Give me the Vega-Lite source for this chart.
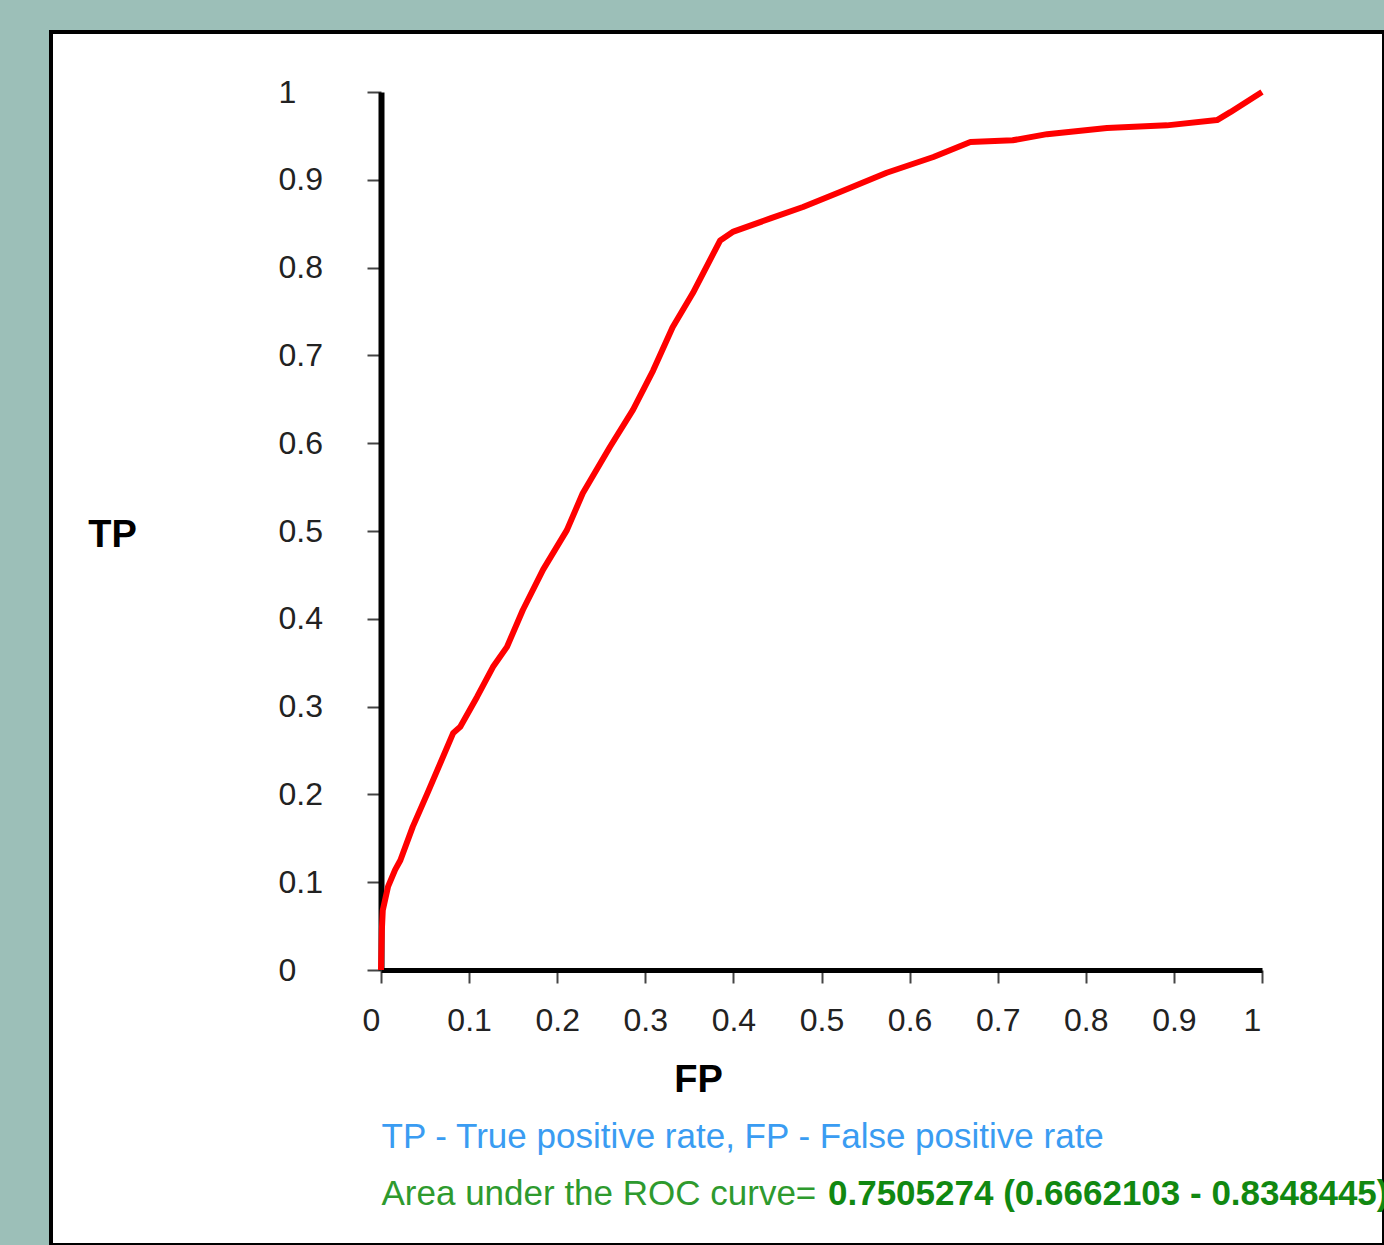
{
  "$schema": "https://vega.github.io/schema/vega-lite/v6.json",
  "width": 1333,
  "height": 1213,
  "autosize": {"type": "none"},
  "padding": {"left": 51, "top": 32, "right": 0, "bottom": 0},
  "background": "#9cbfb8",
  "config": {
    "font": "Liberation Sans",
    "view": {"fill": "white", "stroke": "black", "strokeWidth": 4}
  },
  "title": {
    "text": "0.7505274 (0.6662103 - 0.8348445)",
    "orient": "bottom",
    "anchor": "start",
    "frame": "group",
    "dx": 777,
    "dy": -51,
    "offset": 0,
    "fontSize": 35,
    "fontWeight": "bold",
    "font": "Liberation Sans",
    "color": "#118811",
    "baseline": "middle"
  },
  "data": {
    "values": [
      {"fp": 0.0, "tp": 0.0},
      {"fp": 0.001, "tp": 0.046},
      {"fp": 0.002, "tp": 0.068},
      {"fp": 0.008, "tp": 0.095},
      {"fp": 0.016, "tp": 0.114},
      {"fp": 0.022, "tp": 0.125},
      {"fp": 0.036, "tp": 0.163},
      {"fp": 0.053, "tp": 0.202},
      {"fp": 0.082, "tp": 0.27},
      {"fp": 0.09, "tp": 0.277},
      {"fp": 0.109, "tp": 0.311},
      {"fp": 0.127, "tp": 0.345},
      {"fp": 0.143, "tp": 0.368},
      {"fp": 0.161, "tp": 0.41},
      {"fp": 0.184, "tp": 0.456},
      {"fp": 0.211, "tp": 0.501},
      {"fp": 0.229, "tp": 0.543},
      {"fp": 0.26, "tp": 0.596},
      {"fp": 0.286, "tp": 0.638},
      {"fp": 0.309, "tp": 0.683},
      {"fp": 0.331, "tp": 0.732},
      {"fp": 0.354, "tp": 0.771},
      {"fp": 0.385, "tp": 0.831},
      {"fp": 0.4, "tp": 0.841},
      {"fp": 0.442, "tp": 0.856},
      {"fp": 0.479, "tp": 0.869},
      {"fp": 0.521, "tp": 0.886},
      {"fp": 0.574, "tp": 0.908},
      {"fp": 0.627, "tp": 0.926},
      {"fp": 0.669, "tp": 0.943},
      {"fp": 0.717, "tp": 0.945},
      {"fp": 0.756, "tp": 0.952},
      {"fp": 0.824, "tp": 0.959},
      {"fp": 0.892, "tp": 0.962},
      {"fp": 0.949, "tp": 0.968},
      {"fp": 0.964, "tp": 0.977},
      {"fp": 1.0, "tp": 1.0}
    ]
  },
  "layer": [
    {
      "mark": {"type": "line", "color": "#ff0000", "strokeWidth": 6, "strokeJoin": "round", "clip": false},
      "encoding": {
        "x": {
          "field": "fp",
          "type": "quantitative",
          "scale": {"domain": [0, 1], "range": [330, 1211], "nice": false, "zero": false},
          "axis": {
            "orient": "bottom",
            "offset": -275,
            "values": [0, 0.1, 0.2, 0.3, 0.4, 0.5, 0.6, 0.7, 0.8, 0.9, 1],
            "format": "~g",
            "grid": false,
            "domainColor": "black",
            "domainWidth": 5,
            "tickColor": "#444444",
            "tickWidth": 2,
            "tickSize": 13,
            "labelFontSize": 32,
            "labelColor": "#222222",
            "labelPadding": 22,
            "labelFlush": false,
            "labelOverlap": false,
            "labelOffset": {"condition": {"test": "datum.value == 0 || datum.value == 1", "value": -10}, "value": 0},
            "title": "FP",
            "titleFontSize": 38,
            "titleFontWeight": "bold",
            "titleColor": "black",
            "titleX": 647,
            "titleY": 110,
            "titleAlign": "center",
            "titleBaseline": "middle"
          }
        },
        "y": {
          "field": "tp",
          "type": "quantitative",
          "scale": {"domain": [0, 1], "range": [938, 60], "nice": false, "zero": false},
          "axis": {
            "orient": "left",
            "offset": -330,
            "values": [0, 0.1, 0.2, 0.3, 0.4, 0.5, 0.6, 0.7, 0.8, 0.9, 1],
            "format": "~g",
            "grid": false,
            "domainColor": "black",
            "domainWidth": 6,
            "tickColor": "#444444",
            "tickWidth": 2,
            "tickSize": 14,
            "labelFontSize": 32,
            "labelColor": "#222222",
            "labelAlign": "left",
            "labelPadding": 89,
            "labelFlush": false,
            "labelOverlap": false,
            "title": "TP",
            "titleAngle": 0,
            "titleFontSize": 38,
            "titleFontWeight": "bold",
            "titleColor": "black",
            "titleX": -269,
            "titleY": 503,
            "titleAlign": "center",
            "titleBaseline": "middle"
          }
        }
      }
    },
    {
      "mark": {"type": "line", "opacity": 0},
      "encoding": {
        "x": {
          "field": "fp",
          "type": "quantitative",
          "axis": {
            "orient": "top",
            "offset": 0,
            "domain": false,
            "ticks": false,
            "labels": false,
            "grid": false,
            "title": "TP - True positive rate, FP - False positive rate",
            "titleFontSize": 35,
            "titleFontWeight": "normal",
            "titleColor": "#3a9cf2",
            "titleX": 330,
            "titleY": 1104,
            "titleAlign": "left",
            "titleBaseline": "middle"
          }
        },
        "y": {
          "field": "tp",
          "type": "quantitative",
          "axis": {
            "orient": "right",
            "offset": 0,
            "domain": false,
            "ticks": false,
            "labels": false,
            "grid": false,
            "title": "Area under the ROC curve= ",
            "titleAngle": 0,
            "titleFontSize": 35,
            "titleFontWeight": "normal",
            "titleColor": "#2e9a2e",
            "titleX": -1003,
            "titleY": 1161,
            "titleAlign": "left",
            "titleBaseline": "middle"
          }
        }
      }
    }
  ],
  "resolve": {"axis": {"x": "independent", "y": "independent"}}
}
